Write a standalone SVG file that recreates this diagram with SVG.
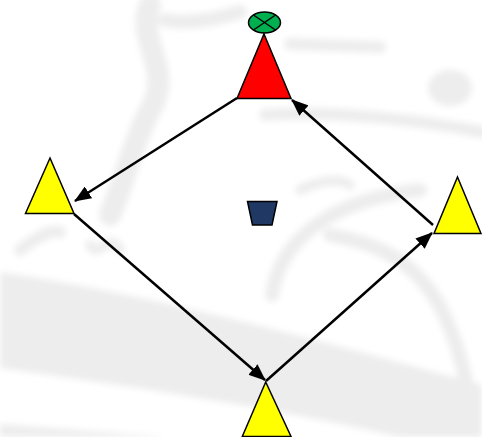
<svg xmlns="http://www.w3.org/2000/svg" width="482" height="437" viewBox="0 0 482 437">
<style>
.wm{fill:#eeedee;stroke:none}
.wms{fill:none;stroke:#eeedee;stroke-linecap:round}
.cone{stroke:#000;stroke-width:1.5;stroke-linejoin:miter}
.yel{fill:#ffff00}
.conn{stroke:#000;stroke-width:2.5;fill:none;marker-end:url(#ah)}
</style>
<defs>
<marker id="ah" markerUnits="userSpaceOnUse" markerWidth="17" markerHeight="14" viewBox="0 0 17 14" refX="16" refY="7" orient="auto">
<path d="M0,0 L17,7 L0,14 z" fill="#000"/>
</marker>
<filter id="soft" x="-10%" y="-10%" width="120%" height="120%"><feGaussianBlur stdDeviation="3"/></filter>
</defs>
<rect width="482" height="437" fill="#ffffff"/>
<g id="watermark" filter="url(#soft)">
<path class="wm" d="M0,272 C120,290 240,318 482,385 L482,437 L400,437 C260,405 120,385 0,368 Z"/>
<path class="wm" d="M0,424 L170,437 L0,437 Z"/>
<path class="wms" stroke-width="22" d="M150,5 C135,40 175,70 150,110 C130,150 125,180 110,215"/>
<path class="wms" stroke-width="14" d="M165,20 C190,25 220,18 240,12"/>
<path class="wms" stroke-width="12" d="M290,44 L380,47"/>
<path class="wms" stroke-width="12" d="M265,115 C330,110 420,120 482,132"/>
<ellipse class="wm" cx="450" cy="88" rx="22" ry="18"/>
<path class="wms" stroke-width="14" d="M272,295 C280,240 330,200 420,190"/>
<path class="wms" stroke-width="10" d="M300,190 C320,180 340,178 350,185"/>
<path class="wms" stroke-width="12" d="M20,250 C40,235 50,230 60,232"/>
<path class="wms" stroke-width="10" d="M120,250 C110,230 100,260 90,245"/>
<path class="wms" stroke-width="14" d="M330,235 C420,250 450,300 470,400"/>
</g>
<g id="connectors">
<line class="conn" x1="237" y1="98" x2="75" y2="201"/>
<line class="conn" x1="74" y1="214" x2="265" y2="380"/>
<line class="conn" x1="266" y1="381" x2="432" y2="233"/>
<line class="conn" x1="433" y1="225" x2="292" y2="100"/>
</g>
<g id="flag">
<ellipse cx="264.5" cy="22.5" rx="16" ry="10.5" fill="#00b050" stroke="#000" stroke-width="1.5"/>
<line x1="253.5" y1="15" x2="275.5" y2="30" stroke="#000" stroke-width="1.5"/>
<line x1="253.5" y1="30" x2="275.5" y2="15" stroke="#000" stroke-width="1.5"/>
</g>
<g id="cone-top">
<polygon class="cone" fill="#ff0000" points="264,34 291,98.5 237,98.5"/>
</g>
<g id="cone-left">
<polygon class="cone yel" points="50,158 74,213.5 25.5,213.5"/>
</g>
<g id="cone-right">
<polygon class="cone yel" points="457.5,177 481,233.5 434,233.5"/>
</g>
<g id="cone-bottom">
<polygon class="cone yel" points="265.7,382 291,436.5 242.3,436.5"/>
</g>
<g id="bucket">
<polygon points="247.5,201.5 277,201.5 272,225 252.5,225" fill="#1f3864" stroke="#000" stroke-width="1.5"/>
</g>
</svg>
